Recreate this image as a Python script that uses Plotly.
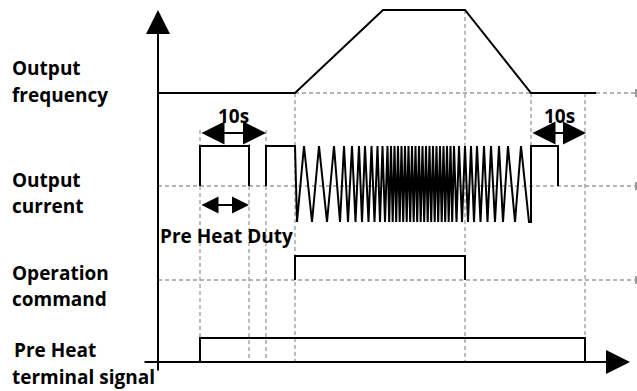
import plotly.graph_objects as go

W, H = 637, 391

# ---- timing data (diagram units: x = time position, y = level position) ----
freq_t = [158, 295, 383, 465, 531, 596]
freq_lv = [93, 93, 10, 10, 93, 93]

pulse1_t = [200, 200, 249, 249]
pulse1_lv = [186, 146, 146, 186]

pulse2_t = [266, 266, 295]
pulse2_lv = [186, 146, 146]

zig_valleys = [297, 312, 327, 340, 348, 355.5, 362, 368.5, 374.5, 380,
               385, 389.2, 392.7, 396.2, 399.7, 403.2, 406.7, 410.2, 413.7, 417.2,
               420.7, 424.2, 427.7, 431.2, 434.7, 438.2, 441.7, 445.2, 448.7, 452.2,
               456.5, 462, 468, 474, 480.5, 487.5, 495, 503, 515, 529]
zig_peaks = [304, 319, 334, 344, 352, 359, 365, 371.5, 377.5, 382.5,
             387.5, 391, 394.5, 398, 401.5, 405, 408.5, 412, 415.5, 419,
             422.5, 426, 429.5, 433, 436.5, 440, 443.5, 447, 450.5, 454,
             459, 465, 471, 477, 484, 491, 499, 508, 521]
zig_top, zig_bottom = 146, 222

pulse3_t = [531, 531, 558, 558]
pulse3_lv = [222, 146, 146, 186]

op_t = [295, 295, 465, 465]
op_lv = [280, 256, 256, 280]

ph_t = [200, 200, 585, 585]
ph_lv = [362, 338, 338, 362]

# dashed guide lines
h_guides = [(295, 636, 93), (158, 636, 186), (158, 636, 280)]
v_guides = [(200, 130, 362), (249, 130, 362), (266, 130, 362), (295, 93, 362),
            (465, 10, 362), (531, 93, 146), (585, 93, 362)]
end_ticks = [93, 186, 280]

labels = [("Output", 10, 68), ("frequency", 10, 95),
          ("Output", 10, 180), ("current", 10, 206),
          ("Operation", 10, 273), ("command", 10, 299),
          ("Pre Heat", 12, 350), ("terminal signal", 10, 377)]

spans = [(200, 266, 133, "10s", 233, 116),
         (531, 586, 133, "10s", 559, 116)]
duty_span = (200, 249, 205)
duty_label = ("Pre Heat Duty", 158, 236)

# ---- build figure ----
fig = go.Figure()
GRAY = "#9a9a9a"
FONT = dict(family="Open Sans", size=19, color="black", weight=700)

for x0, x1, y in h_guides:
    fig.add_trace(go.Scatter(x=[x0, x1], y=[y, y], mode="lines",
                             line=dict(color=GRAY, width=1.3, dash="4px,3px"),
                             hoverinfo="skip"))
for x, y0, y1 in v_guides:
    fig.add_trace(go.Scatter(x=[x, x], y=[y0, y1], mode="lines",
                             line=dict(color=GRAY, width=1.3, dash="4px,3px"),
                             hoverinfo="skip"))
for y in end_ticks:
    fig.add_trace(go.Scatter(x=[636, 636], y=[y - 4, y + 4], mode="lines",
                             line=dict(color=GRAY, width=2), hoverinfo="skip"))

zig_x, zig_y = [], []
for i, v in enumerate(zig_valleys):
    zig_x.append(v)
    zig_y.append(zig_bottom)
    if i < len(zig_peaks):
        zig_x.append(zig_peaks[i])
        zig_y.append(zig_top)

cur_x = pulse2_t + zig_x + pulse3_t
cur_y = pulse2_lv + zig_y + pulse3_lv

solid = [(freq_t, freq_lv), (pulse1_t, pulse1_lv), (cur_x, cur_y),
         (op_t, op_lv), (ph_t, ph_lv)]
for xs, ys in solid:
    fig.add_trace(go.Scatter(x=xs, y=ys, mode="lines",
                             line=dict(color="black", width=2),
                             hoverinfo="skip"))

ann = []
# axes with arrow heads
ann.append(dict(x=158, y=10, ax=158, ay=372, xref="x", yref="y", axref="x", ayref="y",
                showarrow=True, arrowhead=2, arrowsize=2.4, arrowwidth=2,
                arrowcolor="black", text="", standoff=0))
ann.append(dict(x=630, y=362, ax=143, ay=362, xref="x", yref="y", axref="x", ayref="y",
                showarrow=True, arrowhead=2, arrowsize=2.4, arrowwidth=2,
                arrowcolor="black", text="", standoff=0))
for x0, x1, y, t, tx, ty in spans:
    ann.append(dict(x=x1, y=y, ax=x0, ay=y, xref="x", yref="y", axref="x", ayref="y",
                    showarrow=True, arrowhead=2, arrowside="end+start", arrowsize=2.3,
                    arrowwidth=2, arrowcolor="black", text="", standoff=0, startstandoff=0))
    ann.append(dict(x=tx, y=ty, text=t, showarrow=False, font=FONT,
                    xanchor="center", yanchor="middle"))
ann.append(dict(x=duty_span[1], y=duty_span[2], ax=duty_span[0], ay=duty_span[2],
                xref="x", yref="y", axref="x", ayref="y",
                showarrow=True, arrowhead=2, arrowside="end+start", arrowsize=1.7,
                arrowwidth=2, arrowcolor="black", text="", standoff=0, startstandoff=0))
ann.append(dict(x=duty_label[1], y=duty_label[2], text=duty_label[0], showarrow=False,
                font=FONT, xanchor="left", yanchor="middle"))
for t, x, y in labels:
    ann.append(dict(x=x, y=y, text=t, showarrow=False, font=FONT,
                    xanchor="left", yanchor="middle"))

fig.update_layout(
    width=W, height=H, margin=dict(l=0, r=0, t=0, b=0),
    paper_bgcolor="white", plot_bgcolor="white", showlegend=False,
    xaxis=dict(range=[0, W], visible=False, fixedrange=True),
    yaxis=dict(range=[H, 0], visible=False, fixedrange=True),
    annotations=ann,
)
fig.write_html("out.html", config={"displayModeBar": False},
               post_script="document.body.style.margin='0';document.body.style.overflow='hidden';")
